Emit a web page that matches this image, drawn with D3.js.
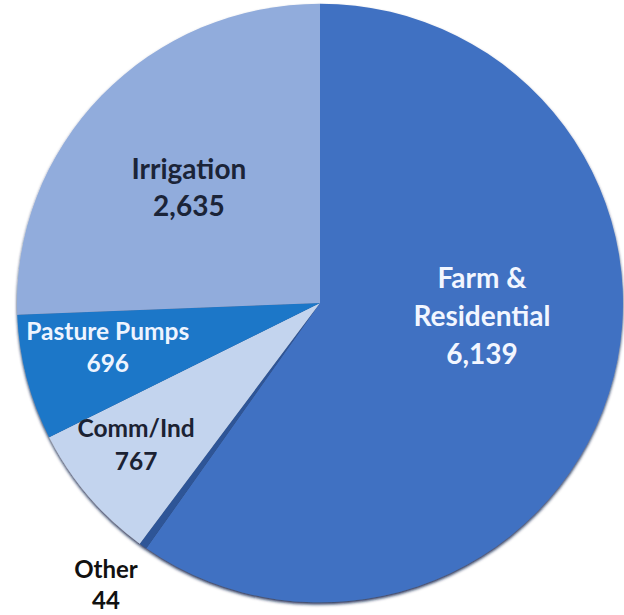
<!DOCTYPE html>
<html>
<head>
<meta charset="utf-8">
<script src="https://cdn.jsdelivr.net/npm/d3@7"></script>
<style>
  html, body { margin: 0; padding: 0; background: #fff; }
  svg { display: block; }
  text { font-family: Lato, "Open Sans", sans-serif; font-weight: 700; }
</style>
</head>
<body>
<svg id="chart" width="624" height="615"></svg>
<script>
// clockwise from 12 o'clock
const categories = ['Farm & Residential', 'Other', 'Comm/Ind', 'Pasture Pumps', 'Irrigation'];
const values = [6139, 44, 767, 696, 2635];
const labelLines = [['Farm &', 'Residential'], ['Other'], ['Comm/Ind'], ['Pasture Pumps'], ['Irrigation']];

const colors = ['#4171c2', '#2f5597', '#c3d4ee', '#1f77c8', '#91acdc'];
const textColors = ['#f2f6ff', '#111111', '#1b2233', '#eef4ff', '#1b2438'];

// label placement: radius factor + small nudge, plus type size
const labelLayout = [
  { k: 0.55, dx: 3, dy: -37, fs: 28, lh: 38 },
  { k: 1.17, dx: -7, dy: -6, fs: 24, lh: 31 },
  { k: 0.75, dx: -10, dy: -5, fs: 24.5, lh: 33 },
  { k: 0.72, dx: -1, dy: -10, fs: 24.5, lh: 32 },
  { k: 0.55, dx: -11, dy: 0, fs: 28, lh: 37 }
];

const svg = d3.select('#chart');
const cx = 320, cy = 303, radius = 303, squash = 0.988;

const defs = svg.append('defs');
defs.append('filter')
  .attr('id', 'edge')
  .attr('x', '-10%').attr('y', '-10%')
  .attr('width', '120%').attr('height', '120%')
  .append('feDropShadow')
  .attr('dx', 0).attr('dy', 2.2)
  .attr('stdDeviation', 1.5)
  .attr('flood-color', '#0b1d4a')
  .attr('flood-opacity', 0.9);

const pieData = d3.pie().sort(null).value(d => d)(values);
const arc = d3.arc().innerRadius(0).outerRadius(radius);

const g = svg.append('g').attr('transform', `translate(${cx},${cy})`);

g.append('g')
  .attr('transform', `scale(1,${squash})`)
  .attr('filter', 'url(#edge)')
  .selectAll('path')
  .data(pieData)
  .join('path')
  .attr('d', arc)
  .attr('fill', (d, i) => colors[i]);

const fmt = d3.format(',');

pieData.forEach((d, i) => {
  const L = labelLayout[i];
  const r = radius * L.k;
  const [x0, y0] = d3.arc().innerRadius(r).outerRadius(r).centroid(d);
  const x = x0 + L.dx, y = y0 + L.dy;
  const lines = labelLines[i].concat([fmt(values[i])]);
  const first = y - (lines.length - 1) * L.lh / 2 + 0.36 * L.fs;
  const t = g.append('text')
    .attr('text-anchor', 'middle')
    .attr('fill', textColors[i])
    .style('font-size', L.fs + 'px');
  lines.forEach((s, j) => {
    t.append('tspan').attr('x', x).attr('y', first + j * L.lh).text(s);
  });
});
</script>
</body>
</html>
